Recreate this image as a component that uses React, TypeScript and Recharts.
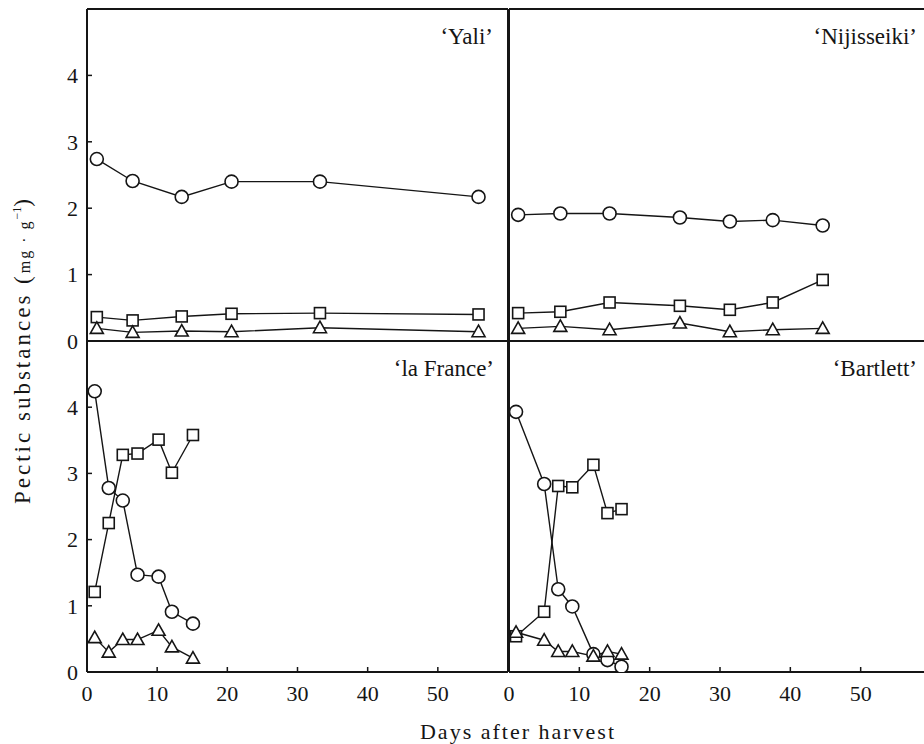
import { LineChart, Line, XAxis, YAxis, ReferenceLine } from 'recharts';

const FONT = '"Liberation Serif", Tinos, "DejaVu Serif", serif';
const INK = '#151515';

// 'Yali'
const yaliDays = [1.4, 6.5, 13.5, 20.6, 33.2, 55.8];
const yaliCircle = [2.74, 2.41, 2.17, 2.4, 2.4, 2.17];
const yaliSquare = [0.36, 0.31, 0.37, 0.41, 0.42, 0.4];
const yaliTriangle = [0.19, 0.13, 0.15, 0.14, 0.2, 0.14];

// 'Nijisseiki'
const nijiDays = [1.3, 7.3, 14.3, 24.3, 31.4, 37.5, 44.6];
const nijiCircle = [1.9, 1.92, 1.92, 1.86, 1.8, 1.82, 1.74];
const nijiSquare = [0.42, 0.44, 0.58, 0.53, 0.47, 0.58, 0.92];
const nijiTriangle = [0.19, 0.22, 0.17, 0.27, 0.14, 0.17, 0.19];

// 'la France'
const franceDays = [1.1, 3.1, 5.1, 7.2, 10.2, 12.1, 15.1];
const franceCircle = [4.24, 2.78, 2.59, 1.47, 1.44, 0.91, 0.73];
const franceSquare = [1.21, 2.25, 3.28, 3.3, 3.51, 3.01, 3.58];
const franceTriangle = [0.52, 0.3, 0.49, 0.49, 0.63, 0.38, 0.21];

// 'Bartlett'
const bartDays = [1, 5, 7, 9, 12, 14, 16];
const bartCircle = [3.93, 2.84, 1.25, 0.99, 0.27, 0.18, 0.08];
const bartSquare = [0.54, 0.91, 2.81, 2.79, 3.13, 2.4, 2.46];
const bartTriangle = [0.6, 0.48, 0.31, 0.31, 0.24, 0.31, 0.27];

const dayTicks = [0, 10, 20, 30, 40, 50];
const valueTicks = [0, 1, 2, 3, 4];

type Row = { day: number; circle: number; square: number; triangle: number };

function makeRows(days: number[], circle: number[], square: number[], triangle: number[]): Row[] {
  return days.map((d, i) => ({ day: d, circle: circle[i], square: square[i], triangle: triangle[i] }));
}

const CircleDot = (p: any) => (
  <circle key={`c-${p.index}`} cx={p.cx} cy={p.cy} r={6.5} fill="#fff" stroke={INK} strokeWidth={1.6} />
);
const SquareDot = (p: any) => (
  <rect key={`s-${p.index}`} x={p.cx - 5.5} y={p.cy - 5.5} width={11} height={11} fill="#fff" stroke={INK} strokeWidth={1.6} />
);
const TriangleDot = (p: any) => (
  <polygon
    key={`t-${p.index}`}
    points={`${p.cx},${p.cy - 6.5} ${p.cx - 6.5},${p.cy + 5} ${p.cx + 6.5},${p.cy + 5}`}
    fill="#fff"
    stroke={INK}
    strokeWidth={1.6}
  />
);

const tickStyle = { fontFamily: FONT, fontSize: 22, fill: INK };
const axisLine = { stroke: INK, strokeWidth: 2 };
const tickLine = { stroke: INK, strokeWidth: 1.5 };

function Panel({ rows, left, top, isLeft, isBottom }: { rows: Row[]; left: number; top: number; isLeft: boolean; isBottom: boolean }) {
  const width = isLeft ? 509 : 432;
  const height = isBottom ? 412 : 360;
  const margin = { top: 9, right: 1, left: isLeft ? 0 : 8, bottom: isBottom ? 32 : 18 };
  return (
    <div style={{ position: 'absolute', left, top }}>
      <LineChart width={width} height={height} data={rows} margin={margin}>
        <XAxis
          type="number"
          dataKey="day"
          domain={[0, 60]}
          ticks={dayTicks}
          allowDataOverflow
          height={isBottom ? 40 : 1}
          tickSize={-5}
          tickMargin={18}
          tick={isBottom ? tickStyle : false}
          axisLine={axisLine}
          tickLine={tickLine}
        />
        <YAxis
          type="number"
          domain={[0, 5]}
          ticks={valueTicks}
          allowDataOverflow
          width={isLeft ? 87 : 1}
          tickSize={-5}
          tickMargin={14}
          tick={isLeft ? tickStyle : false}
          tickLine={isLeft ? tickLine : false}
          axisLine={axisLine}
        />
        <ReferenceLine y={5} stroke={INK} strokeWidth={2} />
        {isLeft && <ReferenceLine x={60} stroke={INK} strokeWidth={2} />}
        <Line dataKey="circle" stroke={INK} strokeWidth={1.4} dot={CircleDot} isAnimationActive={false} />
        <Line dataKey="square" stroke={INK} strokeWidth={1.4} dot={SquareDot} isAnimationActive={false} />
        <Line dataKey="triangle" stroke={INK} strokeWidth={1.4} dot={TriangleDot} isAnimationActive={false} />
      </LineChart>
    </div>
  );
}

function Name({ text, right, cy }: { text: string; right: number; cy: number }) {
  return (
    <div
      style={{
        position: 'absolute',
        right: 924 - right,
        top: cy - 12,
        fontFamily: FONT,
        fontSize: 23,
        lineHeight: '24px',
        color: INK,
        whiteSpace: 'nowrap',
      }}
    >
      {text}
    </div>
  );
}

export default function App() {
  return (
    <div style={{ position: 'fixed', left: 0, top: 0, width: 924, height: 744, overflow: 'hidden', background: '#fff' }}>
      <Panel rows={makeRows(yaliDays, yaliCircle, yaliSquare, yaliTriangle)} left={0} top={0} isLeft isBottom={false} />
      <Panel rows={makeRows(nijiDays, nijiCircle, nijiSquare, nijiTriangle)} left={500} top={0} isLeft={false} isBottom={false} />
      <Panel rows={makeRows(franceDays, franceCircle, franceSquare, franceTriangle)} left={0} top={332} isLeft isBottom />
      <Panel rows={makeRows(bartDays, bartCircle, bartSquare, bartTriangle)} left={500} top={332} isLeft={false} isBottom />

      <Name text="‘Yali’" right={493} cy={37} />
      <Name text="‘Nijisseiki’" right={917} cy={37} />
      <Name text="‘la France’" right={494} cy={369} />
      <Name text="‘Bartlett’" right={917} cy={369} />

      <div
        style={{
          position: 'absolute',
          left: 21,
          top: 350,
          transform: 'translate(-50%, -50%) rotate(-90deg)',
          fontFamily: FONT,
          fontSize: 23,
          letterSpacing: 3,
          color: INK,
          whiteSpace: 'nowrap',
          lineHeight: '26px',
        }}
      >
        Pectic substances (
        <span style={{ fontSize: 16, letterSpacing: 2 }}>mg · g</span>
        <sup style={{ fontSize: 12, letterSpacing: 0 }}>−1</sup>)
      </div>

      <div
        style={{
          position: 'absolute',
          left: 518,
          top: 732,
          transform: 'translate(-50%, -50%)',
          fontFamily: FONT,
          fontSize: 22,
          letterSpacing: 2,
          color: INK,
          whiteSpace: 'nowrap',
          lineHeight: '24px',
        }}
      >
        Days after harvest
      </div>
    </div>
  );
}
